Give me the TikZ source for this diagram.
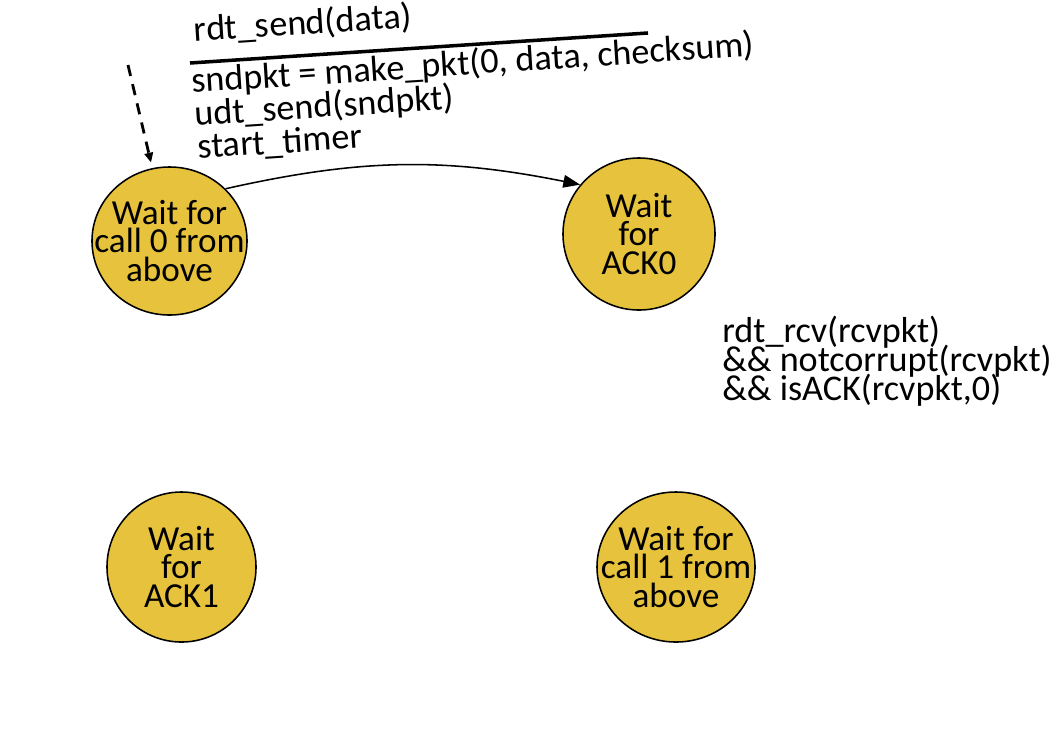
\documentclass[tikz,border=0pt]{standalone}
\usepackage{fontspec}
\setmainfont{Carlito}
\usetikzlibrary{shapes.geometric, arrows.meta}
\definecolor{stategold}{RGB}{231,194,60}

\begin{document}
\begin{tikzpicture}[
    x=0.025cm, y=-0.025cm,
    state/.style={ellipse, draw, line width=1.1pt, fill=stategold, inner sep=-30pt, align=center, font=\fontsize{25}{20.6}\selectfont},
    label/.style={anchor=base west, inner sep=0pt, font=\fontsize{25.7}{20.6}\selectfont},
    arrow/.style={-{Triangle[length=12pt, width=9pt]}, line width=1.1pt},
    initarrow/.style={-{Triangle[length=7pt, width=6pt]}, line width=2pt, dash pattern=on 8pt off 6pt, shorten >=4pt},
]
\useasboundingbox (0,0) rectangle (1062,732);

% States
\node[state, minimum width=3.875cm, minimum height=3.7cm] (call0) at (169.5,241) {Wait for\\call 0 from\\above};
\node[state, minimum width=3.8cm, minimum height=3.8cm] (ack0) at (639,234) {Wait\\for\\ACK0};
\node[state, minimum width=3.725cm, minimum height=3.75cm] (ack1) at (181.5,567) {Wait\\for\\ACK1};
\node[state, minimum width=3.95cm, minimum height=3.75cm] (call1) at (676,567) {Wait for\\call 1 from\\above};

% Initial transition
\coordinate (init) at (128,65);
\draw[initarrow] (init) -- (call0);

% Event / action of the first transition
\begin{scope}[shift={(190,63)}, rotate=3.75, transform shape]
\draw[line width=2.5pt] (0,0) -- (459,0);
\node[label] (event) at (6,-21) {rdt\_send(data)};
\node[label] (act1) at (0,30) {sndpkt = make\_pkt(0, data, checksum)};
\node[label] (act2) at (1,63) {udt\_send(sndpkt)};
\node[label] (act3) at (2,96) {start\_timer};
\end{scope}

% Transition to Wait for ACK0
\draw[arrow] (call0.43) to[bend left=12] (ack0.140);

% Condition text
\node[label] (cond1) at (722,342) {rdt\_rcv(rcvpkt)};
\node[label] (cond2) at (722,371) {\&\& notcorrupt(rcvpkt)};
\node[label] (cond3) at (722,400) {\&\& isACK(rcvpkt,0)};

\end{tikzpicture}
\end{document}
